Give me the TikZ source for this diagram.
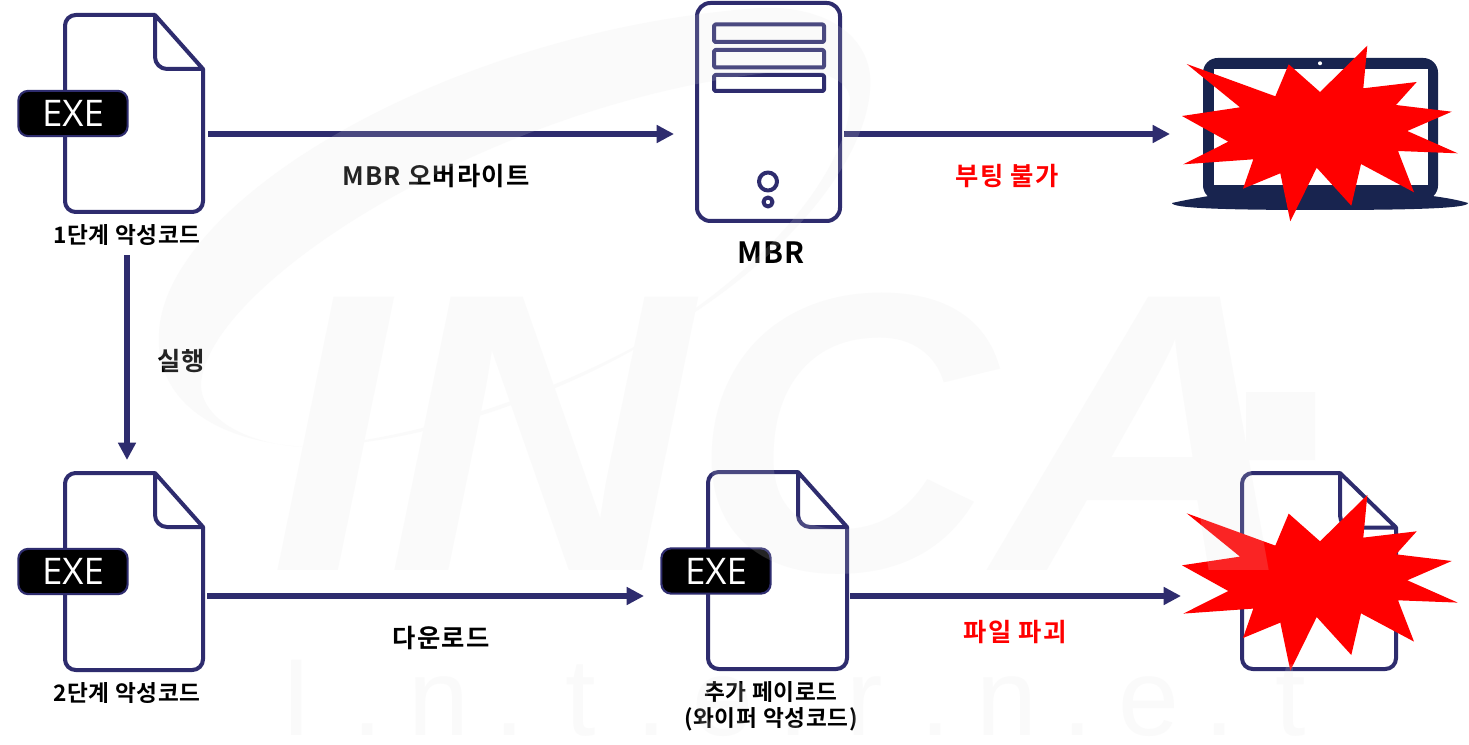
\documentclass[tikz,border=0pt]{standalone}
\usepackage{fontspec}
\setmainfont{Noto Sans CJK KR}
\newfontfamily\labcap{Noto Sans CJK KR}[BoldFont={* Bold},LetterSpace=3]
\newfontfamily\labedge{Noto Sans CJK KR}[BoldFont={* Bold},LetterSpace=5]
\newfontfamily\exefont{Open Sans}
\newfontfamily\markfont{Liberation Sans}
\usetikzlibrary{arrows.meta}
\definecolor{navy}{HTML}{2E2C6E}
\definecolor{laptopnavy}{HTML}{18244F}
\definecolor{wm}{HTML}{E1E1E1}
\newcommand{\filepath}[6]{%
  (#5,#3) [rounded corners=8pt] -- (#1,#3) -- (#1,#4) -- (#2,#4) [sharp corners] -- (#2,#6) -- (#5,#3)
  [rounded corners=9pt] -- (#5,#6) [sharp corners] -- (#2,#6)}
\newcommand{\burstpath}{(1367.3,45.7) -- (1363.3,88.3) -- (1416.7,82) -- (1396,105) -- (1451.7,111.7) -- (1407.3,131) -- (1457.7,153.3) -- (1398,151) -- (1414,192.3) -- (1361,164) -- (1351.3,205.7) -- (1316.7,167.7) -- (1290.3,221.3) -- (1280.3,173.3) -- (1243,188.7) -- (1253.3,159.3) -- (1183.3,164.3) -- (1228.3,141.7) -- (1182,116) -- (1240,107.3) -- (1186.7,64) -- (1275.3,96.3) -- (1288.7,64.3) -- (1320,92) -- cycle}
\newcommand{\markcell}[1]{\makebox[53.25pt]{#1}}
\tikzset{
  x=.75pt,y=-.75pt,
  iconline/.style={draw=navy,line width=3pt,line join=round},
  badge/.style={fill=black,draw=navy,line width=1.6pt,rounded corners=7.5pt,minimum width=82pt,minimum height=34pt,inner sep=0pt,text=white,font=\exefont\fontsize{27.5}{28}\selectfont},
  anchorbox/.style={inner sep=0pt,outer sep=0pt},
  flow/.style={draw=navy,line width=4pt,-{Triangle[length=13pt,width=12.8pt]}},
  caption/.style={inner sep=0pt,align=center,text=black,font=\labcap\bfseries\fontsize{17}{19.5}\selectfont},
  edgelabel/.style={inner sep=0pt,align=center,text=black,font=\labedge\bfseries\fontsize{19}{22}\selectfont},
  alarm/.style={inner sep=0pt,text=red,font=\labedge\bfseries\fontsize{19}{22}\selectfont},
  watermark/.style={inner sep=0pt,text=wm},
}
\begin{document}
\begin{tikzpicture}
\useasboundingbox (0,0) rectangle (1469,745);
\fill[white] (0,0) rectangle (1469,745);
% connector anchor boxes
\node[anchorbox,minimum width=121.5pt,minimum height=181.5pt] (file1) at (127,134) {};
\node[anchorbox,minimum width=127.5pt,minimum height=60pt] (mbr) at (759,134) {};
\node[anchorbox,minimum width=225pt,minimum height=60pt] (laptop) at (1320,134) {};
\node[anchorbox,minimum width=120pt,minimum height=204pt] (file2) at (127,596) {};
\node[anchorbox,minimum width=154.5pt,minimum height=60pt] (file3) at (747,596) {};
\node[anchorbox,minimum width=201pt,minimum height=60pt] (wiped) at (1315,596) {};
% file icons
\draw[iconline] \filepath{65}{203}{15}{212}{155}{69};
\node[badge] (exe1) at (73,113.5) {EXE};
\draw[iconline] \filepath{65}{203}{473}{670}{155}{527};
\node[badge] (exe2) at (73,571.5) {EXE};
\draw[iconline] \filepath{708}{847}{472}{669}{798}{527};
\node[badge] (exe3) at (716,571) {EXE};
% server
\draw[iconline,rounded corners=10pt] (697,3) rectangle (840,221);
\draw[iconline,rounded corners=1pt] (714,24.5) rectangle (824,42);
\draw[iconline,rounded corners=1pt] (714,50) rectangle (824,67.5);
\draw[iconline,rounded corners=1pt] (714,75) rectangle (824,91);
\draw[iconline] (768,181.5) circle[radius=9];
\draw[iconline] (768,202) circle[radius=4.5];
% laptop
\fill[laptopnavy,rounded corners=11pt] (1203,58) rectangle (1438,200);
\fill[laptopnavy] (1172,203) .. controls (1190,199) and (1203,197) .. (1215,195) -- (1425,195) .. controls (1440,197) and (1455,199) .. (1468,203) .. controls (1468,208) and (1420,210) .. (1320,210) .. controls (1220,210) and (1172,208) .. (1172,203) -- cycle;
\fill[white] (1213.5,69) rectangle (1427.5,185.5);
\fill[white] (1320,63.3) circle[radius=2];
\fill[red] \burstpath;
% wiped file
\draw[iconline] \filepath{1242}{1396}{473}{669}{1340}{527.5};
\begin{scope}[yshift=-336.98pt]
\fill[red] \burstpath;
\end{scope}
% connectors
\draw[flow] (file1.east) -- (mbr.west);
\draw[flow] (mbr.east) -- (laptop.west);
\draw[flow] (file1.south) -- (file2.north);
\draw[flow] (file2.east) -- (file3.west);
\draw[flow] (file3.east) -- (wiped.west);
% labels
\node[caption] (cap1) at (127,235) {1단계 악성코드};
\node[caption] (cap2) at (127,693) {2단계 악성코드};
\node[caption] (cap3) at (771,706) {추가 페이로드\\(와이퍼 악성코드)};
\node[caption,font=\labcap\bfseries\fontsize{22}{24}\selectfont] (capm) at (771,253) {MBR};
\node[edgelabel] (lab1) at (436,176) {MBR 오버라이트};
\node[alarm] (lab2) at (1007,176) {부팅 불가};
\node[edgelabel] (lab3) at (181,361) {실행};
\node[edgelabel] (lab4) at (441,638) {다운로드};
\node[alarm] (lab5) at (1015,632) {파일 파괴};
% watermark, laid over everything
\begin{scope}[transparency group,opacity=.16]
\fill[wm,even odd rule] (305,447) .. controls (200,440) and (155,390) .. (159,333) .. controls (165,200) and (450,30) .. (760,8) .. controls (830,5) and (875,40) .. (870,90) .. controls (865,160) and (790,260) .. (650,340) .. controls (560,395) and (420,445) .. (305,447) -- cycle
 (305,447) .. controls (420,440) and (560,390) .. (650,338) .. controls (780,260) and (850,160) .. (850,100) .. controls (850,80) and (820,66) .. (776,72) .. controls (500,100) and (210,280) .. (201,383) .. controls (200,420) and (250,445) .. (305,447) -- cycle;
\node[watermark,anchor=base,xscale=1.06,font=\markfont\bfseries\itshape\fontsize{298}{298}\selectfont] (wmark) at (785,570) {INCA};
\fill[wm] (1246,392) rectangle (1315,460);
\node[watermark,anchor=base,font=\markfont\fontsize{82}{82}\selectfont] (wmtext) at (794,735) {\markcell{I}\markcell{.}\markcell{n}\markcell{.}\markcell{t}\markcell{.}\markcell{e}\markcell{.}\markcell{r}\markcell{.}\markcell{n}\markcell{.}\markcell{e}\markcell{.}\markcell{t}};
\end{scope}
\end{tikzpicture}
\end{document}
